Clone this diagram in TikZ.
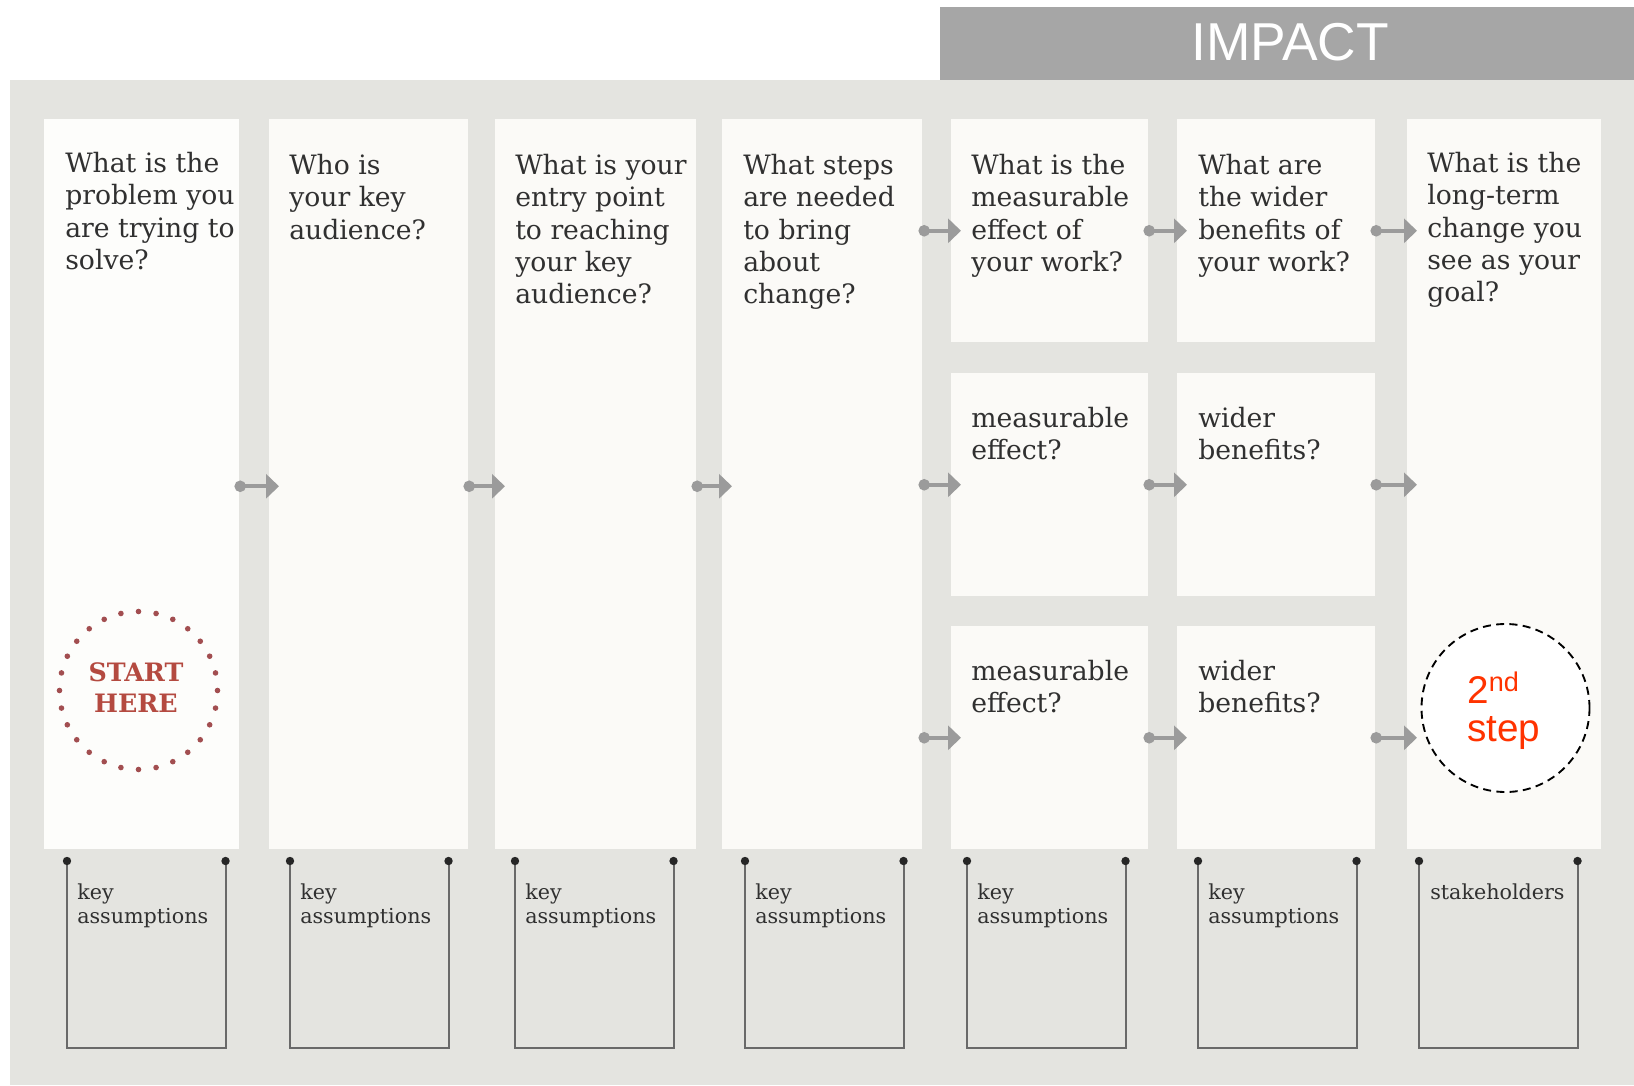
\documentclass[tikz,border=0pt]{standalone}
\usepackage{fontspec}
\setmainfont{DejaVu Serif}
\newfontfamily\arialf{Liberation Sans}
\usetikzlibrary{arrows.meta,calc}
\definecolor{bgc}{RGB}{228,228,224}
\definecolor{colfill}{RGB}{251,250,247}
\definecolor{colfillw}{RGB}{253,253,251}
\definecolor{hdr}{RGB}{166,166,166}
\definecolor{txt}{RGB}{48,48,48}
\definecolor{flowc}{RGB}{155,155,155}
\definecolor{startc}{RGB}{180,74,64}
\definecolor{dotc}{RGB}{162,78,80}
\definecolor{stepc}{RGB}{255,51,0}
\definecolor{brk}{RGB}{105,105,105}
\begin{document}
\begin{tikzpicture}[x=0.75pt,y=-0.75pt,
  colbox/.style 2 args={draw=none, fill=colfill, anchor=north west, inner sep=0,
    minimum width=#1*0.75pt, minimum height=#2*0.75pt},
  kbox/.style 2 args={draw=none, anchor=north west, inner sep=0,
    minimum width=#1*0.75pt, minimum height=#2*0.75pt},
  q/.style={anchor=north west, inner sep=0, align=left, text=txt,
    font=\fontsize{20pt}{24.2pt}\selectfont},
  ktext/.style={anchor=north west, inner sep=0, align=left, text=txt,
    font=\fontsize{15.5pt}{18pt}\selectfont},
  flow/.style={draw=flowc, line width=2.8pt,
    {Circle[length=8.5pt]}-{Triangle[length=9.75pt,width=18pt]}},
  brkline/.style={draw=brk, line width=1.5pt},
  brkdot/.style={fill=black!85},
]
\useasboundingbox (0,0) rectangle (1634,1085);
\fill[white] (0,0) rectangle (1634,1085);
% header
\node[colbox={694}{73}, fill=hdr] (hdrbox) at (940,7) {};
\node[text=white, font=\arialf\fontsize{40pt}{48pt}\selectfont, inner sep=0] (impact) at (1290,42) {IMPACT};
% background
\fill[bgc] (10,80) rectangle (1634,1085);
% columns
\node[colbox={195}{730}, fill=colfillw] (c1) at (44,119) {};
\node[colbox={199}{730}] (c2) at (269,119) {};
\node[colbox={201}{730}] (c3) at (495,119) {};
\node[colbox={200}{730}] (c4) at (722,119) {};
\node[colbox={197}{223}] (c5a) at (951,119) {};
\node[colbox={197}{223}] (c5b) at (951,373) {};
\node[colbox={197}{223}] (c5c) at (951,626) {};
\node[colbox={198}{223}] (c6a) at (1177,119) {};
\node[colbox={198}{223}] (c6b) at (1177,373) {};
\node[colbox={198}{223}] (c6c) at (1177,626) {};
\node[colbox={194}{730}] (c7) at (1407,119) {};
% questions
\node[q] (t1) at (65,152) {What is the\\problem you\\are trying to\\solve?};
\node[q] (t2) at (289,154) {Who is\\your key\\audience?};
\node[q] (t3) at (515,154) {What is your\\entry point\\to reaching\\your key\\audience?};
\node[q] (t4) at (743,154) {What steps\\are needed\\to bring\\about\\change?};
\node[q] (t5) at (971,154) {What is the\\measurable\\effect of\\your work?};
\node[q] (t6) at (1198,154) {What are\\the wider\\benefits of\\your work?};
\node[q] (t7) at (1427,152) {What is the\\long-term\\change you\\see as your\\goal?};
\node[q] (m5) at (971,407) {measurable\\effect?};
\node[q] (m6) at (1198,407) {wider\\benefits?};
\node[q] (b5) at (971,660) {measurable\\effect?};
\node[q] (b6) at (1198,660) {wider\\benefits?};
% flow arrows
\foreach \a/\b in {c1/c2,c2/c3,c3/c4}
  \draw[flow] ($(\a.east)+(-5,2)$) -- ($(\b.west)+(10,2)$);
\foreach \r in {a,b,c}{
  \draw[flow] ($(c4.east |- c5\r.west)+(-4,0)$) -- ($(c5\r.west)+(10,0)$);
  \draw[flow] ($(c5\r.east)+(-5,0)$) -- ($(c6\r.west)+(10,0)$);
  \draw[flow] ($(c6\r.east)+(-5,0)$) -- ($(c7.west |- c6\r.east)+(10,0)$);
}
% START HERE
\node[circle, minimum size=158*0.75pt, inner sep=0] (sh) at (138.5,690.5) {};
\foreach \i in {0,...,27}
  \fill[dotc] ($(sh.center)+({90+\i*360/28}:79)$) circle (2.8);
\node[inner sep=0, align=center, text=startc,
  font=\bfseries\fontsize{19pt}{23.2pt}\selectfont] (shtext) at (136,688) {START\\HERE};
% 2nd step
\node[circle, draw=black, dashed, dash pattern=on 6pt off 4pt, line width=1.4pt,
  fill=white, minimum size=168*0.75pt, inner sep=0] (s2) at (1505.5,708) {};
\node[anchor=north west, inner sep=0, align=left, text=stepc,
  font=\arialf\fontsize{29pt}{28pt}\selectfont] (s2text) at (1467,672) {2\textsuperscript{nd}\\step};
% key assumption brackets
\foreach \n/\xl in {1/67,2/290,3/515,4/745,5/967,6/1198,7/1419}{
  \node[kbox={158}{186}] (k\n) at (\xl,861) {};
  \draw[brkline] (k\n.north west) -- (k\n.south west) -- (k\n.south east) -- (k\n.north east);
  \fill[brkdot] (k\n.north west) circle (4.2);
  \fill[brkdot] (k\n.north east) circle (4.2);
}
\foreach \n in {1,...,6}
  \node[ktext] (kt\n) at ($(k\n.north west)+(10,23)$) {key\\assumptions};
\node[ktext] (kt7) at ($(k7.north west)+(11,23)$) {stakeholders};
\end{tikzpicture}
\end{document}
